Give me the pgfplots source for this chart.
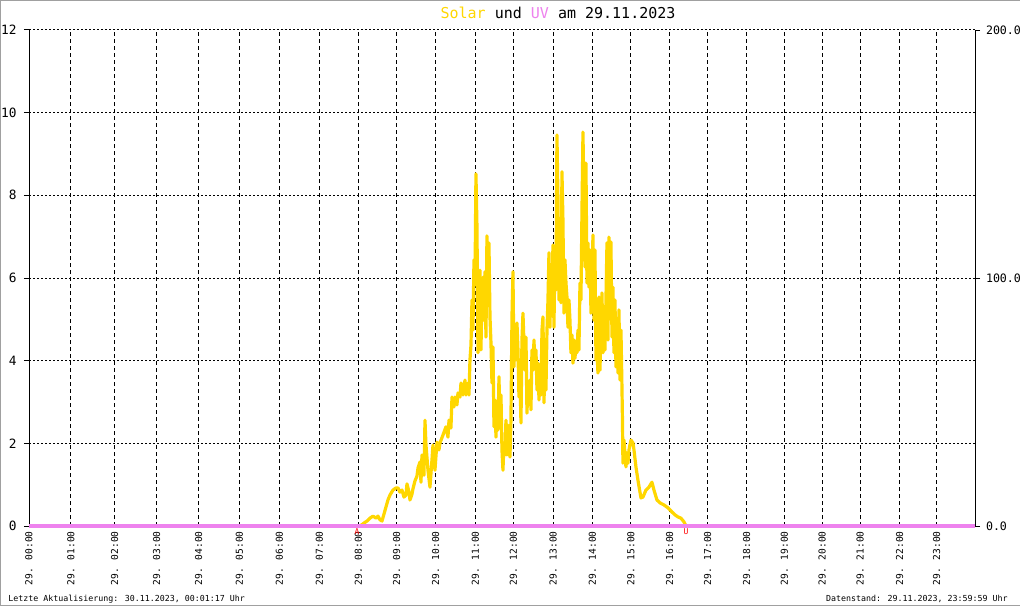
\documentclass[border=0pt]{standalone}
\usepackage{pgfplots}
\pgfplotsset{compat=1.18}
\usepackage{fontspec}
\setmainfont{DejaVu Sans Mono}
\definecolor{solar}{HTML}{FFD700}
\definecolor{uvc}{HTML}{EE82EE}
\definecolor{framec}{HTML}{A0A0A0}

\begin{document}
\begin{tikzpicture}
\path[use as bounding box] (0,0) rectangle (510pt,303pt);
\fill[white] (0,0) rectangle (510pt,303pt);
\begin{axis}[
  at={(14.5pt,40pt)}, anchor=south west, scale only axis,
  width=473pt, height=248pt,
  xmin=0, xmax=24, ymin=0, ymax=12,
  axis y line*=left, axis x line*=bottom,
  axis line style={-, line width=0.5pt},
  x axis line style={draw=none},
  xtick={0,1.065,2.174,3.239,4.305,5.336,6.350,7.364,8.354,9.327,10.317,11.322,12.286,13.300,14.290,15.272,16.253,17.217,18.206,19.161,20.124,21.088,22.087,23.026},
  xticklabels={29. 00:00,29. 01:00,29. 02:00,29. 03:00,29. 04:00,29. 05:00,29. 06:00,29. 07:00,29. 08:00,29. 09:00,29. 10:00,29. 11:00,29. 12:00,29. 13:00,29. 14:00,29. 15:00,29. 16:00,29. 17:00,29. 18:00,29. 19:00,29. 20:00,29. 21:00,29. 22:00,29. 23:00},
  ytick={0,2,4,6,8,10,12},
  yticklabels={0,2,4,6,8,10,12},
  grid=major,
  major x grid style={black, line width=0.5pt, dash pattern=on 2pt off 1.5pt},
  major y grid style={black, line width=0.5pt, dash pattern=on 1pt off 1pt},
  x tick style={draw=none},
  y tick style={black, line width=0.5pt},
  tick align=outside, major tick length=2.5pt,
  xticklabel style={rotate=90, anchor=east, inner sep=0pt, font=\fontsize{4.8}{5}\selectfont},
  yticklabel style={font=\fontsize{6.4}{7}\selectfont, inner sep=0pt, xshift=-3.5pt},
  clip=false,
]
\addplot[solar, line width=1.6pt, line join=round] coordinates {
(0,0) (8.397,0) (8.498,0.07) (8.574,0.12) (8.650,0.19) (8.727,0.24) (8.803,0.19) (8.853,0.24) (8.904,0.15) (8.955,0.12) (9.006,0.29) (9.056,0.46) (9.107,0.63) (9.158,0.75) (9.234,0.87) (9.310,0.92) (9.361,0.92) (9.411,0.82) (9.462,0.87) (9.513,0.70) (9.564,0.75) (9.589,1.02) (9.640,0.82) (9.665,0.63) (9.716,0.77) (9.741,0.90) (9.792,1.09) (9.843,1.21) (9.868,1.40) (9.919,1.55) (9.944,1.06) (9.970,1.72) (10.020,1.23) (10.046,2.56) (10.071,1.96) (10.122,1.35) (10.172,0.94) (10.223,1.60) (10.249,1.96) (10.299,1.35) (10.350,2.03) (10.401,1.84) (10.426,2.01) (10.502,2.20) (10.578,2.40) (10.629,2.15) (10.655,2.56) (10.705,2.37) (10.731,3.12) (10.781,2.88) (10.807,3.12) (10.857,2.93) (10.883,3.22) (10.934,3.12) (10.959,3.46) (11.010,3.17) (11.060,3.53) (11.086,3.17) (11.136,3.46) (11.162,3.17) (11.187,4.02) (11.213,4.38) (11.238,5.47) (11.263,4.74) (11.289,6.44) (11.314,5.83) (11.339,8.52) (11.365,7.23) (11.390,4.19) (11.415,4.57) (11.441,6.19) (11.466,4.26) (11.492,5.64) (11.517,6.02) (11.542,4.98) (11.568,6.15) (11.593,4.57) (11.618,7.02) (11.644,5.47) (11.669,6.85) (11.695,5.06) (11.720,4.43) (11.745,3.46) (11.771,4.33) (11.796,2.40) (11.821,3.05) (11.847,2.15) (11.872,2.88) (11.898,2.32) (11.923,3.61) (11.948,2.56) (11.974,3.17) (11.999,1.84) (12.024,1.35) (12.050,2.01) (12.075,1.72) (12.100,2.56) (12.126,1.72) (12.151,2.44) (12.177,1.84) (12.202,1.67) (12.227,2.56) (12.253,5.06) (12.278,6.15) (12.303,3.85) (12.329,4.74) (12.354,4.02) (12.380,4.91) (12.405,4.26) (12.430,3.12) (12.456,3.61) (12.481,2.49) (12.506,4.50) (12.532,5.15) (12.557,4.43) (12.582,3.77) (12.608,4.57) (12.633,2.73) (12.659,3.46) (12.684,3.05) (12.709,3.53) (12.735,2.81) (12.760,4.26) (12.786,3.77) (12.811,4.50) (12.836,3.90) (12.862,4.26) (12.887,3.29) (12.912,3.94) (12.938,3.05) (12.963,3.77) (12.988,3.17) (13.014,4.74) (13.039,5.06) (13.065,2.98) (13.090,4.02) (13.115,3.29) (13.141,4.74) (13.166,5.47) (13.191,6.61) (13.217,4.81) (13.242,6.19) (13.268,5.64) (13.293,6.80) (13.318,4.81) (13.344,6.68) (13.369,5.71) (13.394,9.46) (13.420,7.89) (13.445,5.47) (13.470,5.88) (13.496,5.40) (13.521,8.57) (13.546,7.40) (13.572,5.15) (13.597,6.44) (13.623,5.88) (13.648,5.54) (13.673,4.81) (13.699,5.47) (13.724,4.98) (13.749,4.19) (13.775,4.62) (13.800,3.94) (13.825,4.50) (13.851,4.06) (13.876,4.38) (13.902,4.19) (13.927,4.74) (13.952,4.26) (13.978,5.88) (14.003,5.47) (14.028,7.57) (14.054,9.53) (14.079,7.89) (14.104,6.27) (14.130,8.78) (14.155,5.88) (14.181,6.85) (14.206,5.78) (14.231,6.68) (14.257,5.15) (14.282,5.71) (14.307,7.04) (14.333,4.98) (14.358,6.68) (14.384,4.02) (14.409,4.26) (14.434,3.70) (14.460,5.54) (14.485,3.77) (14.510,4.74) (14.536,5.64) (14.561,4.19) (14.587,4.57) (14.612,4.26) (14.637,5.47) (14.663,6.85) (14.688,4.50) (14.713,6.99) (14.739,5.47) (14.764,6.87) (14.790,4.57) (14.815,5.78) (14.840,4.19) (14.866,5.47) (14.891,3.85) (14.916,4.98) (14.942,3.70) (14.967,5.23) (14.993,3.53) (15.018,4.74) (15.043,3.36) (15.056,2.56) (15.068,1.52) (15.094,2.08) (15.144,1.43) (15.170,1.77) (15.195,1.52) (15.221,1.84) (15.272,2.08) (15.322,2.01) (15.348,1.84) (15.398,1.43) (15.449,1.11) (15.525,0.68) (15.576,0.70) (15.652,0.87) (15.728,0.94) (15.804,1.06) (15.855,0.87) (15.931,0.63) (16.007,0.56) (16.108,0.51) (16.210,0.44) (16.311,0.34) (16.388,0.27) (16.464,0.22) (16.540,0.19) (16.616,0.10) (16.667,0) (24,0)
};
\node[text=red, font=\fontsize{4}{4}\selectfont, inner sep=0pt] at (axis cs:8.32,0) [yshift=-2.8pt] {A};
\node[text=red, font=\fontsize{4}{4}\selectfont, inner sep=0pt] at (axis cs:16.67,0) [yshift=-2.8pt] {U};
\end{axis}
\begin{axis}[
  at={(14.5pt,40pt)}, anchor=south west, scale only axis,
  width=473pt, height=248pt,
  xmin=0, xmax=24, ymin=0, ymax=200,
  axis y line*=right, axis x line=none,
  axis line style={-, line width=0.5pt},
  xtick=\empty,
  ytick={0,100,200}, yticklabels={0.0,100.0,200.0},
  y tick style={black, line width=0.5pt},
  tick align=outside, major tick length=2.5pt,
  yticklabel style={font=\fontsize{5.8}{7}\selectfont, inner sep=0pt, xshift=2.8pt},
  clip=false,
]
\addplot[uvc, line width=1.8pt] coordinates {(0,0) (24,0)};
\end{axis}
\node[font=\fontsize{7.5}{8}\selectfont] at (279pt,296.75pt) {\textcolor{solar}{Solar} und \textcolor{uvc}{UV} am 29.11.2023};
\node[font=\fontsize{4.15}{5}\selectfont, anchor=west, inner sep=0pt] at (4pt,3.3pt) {Letzte Aktualisierung: 30.11.2023, 00:01:17 Uhr};
\node[font=\fontsize{4.15}{5}\selectfont, anchor=east, inner sep=0pt] at (504pt,3.3pt) {Datenstand: 29.11.2023, 23:59:59 Uhr};
\draw[framec, line width=0.5pt] (510pt,302.75pt) -- (0.25pt,302.75pt) -- (0.25pt,0.25pt) -- (510pt,0.25pt);
\end{tikzpicture}
\end{document}
